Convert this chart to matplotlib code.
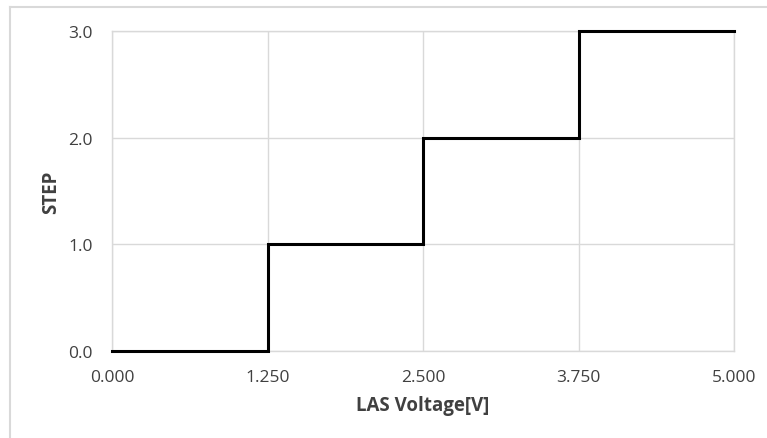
import matplotlib
matplotlib.use('Agg')
from matplotlib import pyplot as plt
from matplotlib.lines import Line2D

# step data
volt = [0.0, 1.25, 2.5, 3.75, 5.0]
step = [0, 1, 2, 3, 3]
x_ticks = [0.0, 1.25, 2.5, 3.75, 5.0]
y_ticks = [0.0, 1.0, 2.0, 3.0]

plt.rcParams['font.family'] = ['Open Sans', 'DejaVu Sans']
grid_c = '#d9d9d9'
text_c = '#404040'

fig = plt.figure(figsize=(7.67, 4.39), dpi=100)
ax = fig.add_axes([112 / 767, 1 - 352 / 439, (734 - 112) / 767, (352 - 32) / 439])

ax.plot(volt, step, drawstyle='steps-post', color='black', lw=2.2,
        solid_joinstyle='miter', zorder=3, clip_on=False)

ax.set_xlim(0, 5)
ax.set_ylim(0, 3)
ax.set_xticks(x_ticks)
ax.set_xticklabels(['%.3f' % v for v in x_ticks])
ax.set_yticks(y_ticks)
ax.set_yticklabels(['%.1f' % v for v in y_ticks])
ax.tick_params(length=0, labelsize=12.5, labelcolor=text_c)
ax.tick_params(axis='x', pad=13)
ax.tick_params(axis='y', pad=14)
ax.grid(True, color=grid_c, lw=1)
for s in ax.spines.values():
    s.set_color(grid_c)
    s.set_linewidth(1)

ax.set_xlabel('LAS Voltage[V]', fontsize=13.5, fontweight='bold', color=text_c, labelpad=7)
ax.set_ylabel('STEP', fontsize=13.5, fontweight='bold', color=text_c, labelpad=5)

# outer chart border
fig.add_artist(Line2D([10 / 767, 1], [1 - 8 / 439, 1 - 8 / 439], color=grid_c, lw=1.5,
                      transform=fig.transFigure))
fig.add_artist(Line2D([10 / 767, 10 / 767], [0, 1 - 8 / 439], color=grid_c, lw=1.5,
                      transform=fig.transFigure))

plt.savefig('out.png', dpi=100)
